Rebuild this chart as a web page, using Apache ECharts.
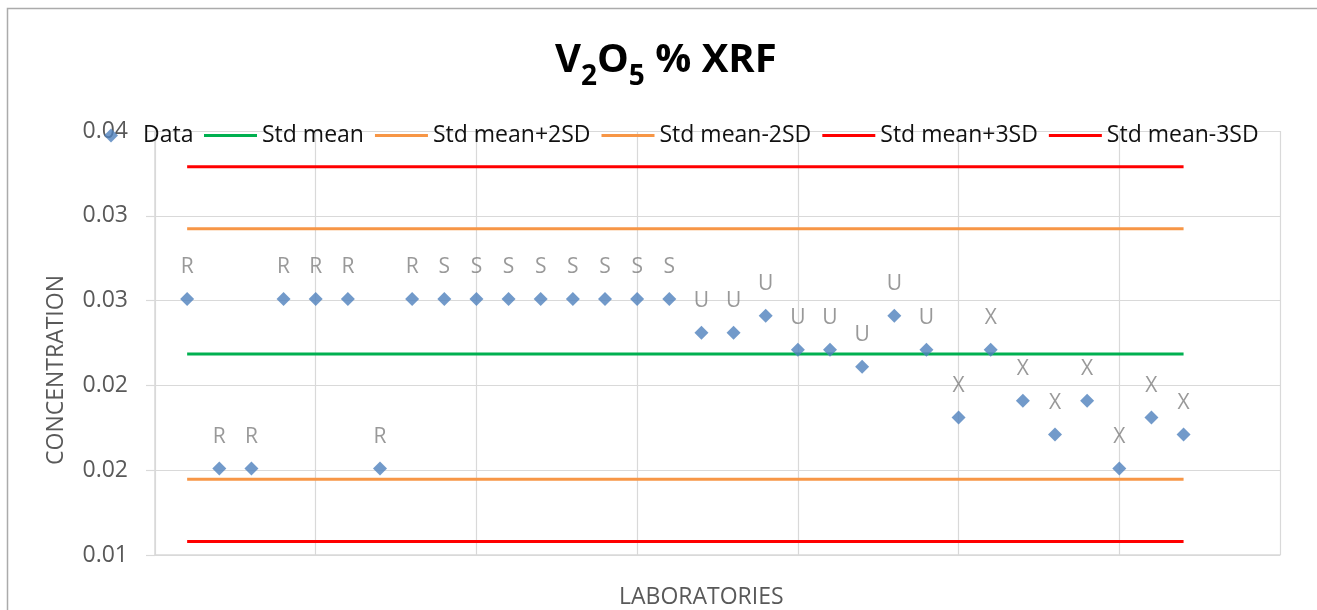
<!DOCTYPE html>
<html>
<head>
<meta charset="utf-8">
<script src="https://cdn.jsdelivr.net/npm/echarts@6/dist/echarts.min.js"></script>
<style>
html,body{margin:0;padding:0;background:#fff;}
#chart{width:1317px;height:610px;}
</style>
</head>
<body>
<div id="chart"></div>
<script>
// ---- data ----
const labIndex = [1,2,3,4,5,6,7,8,9,10,11,12,13,14,15,16,17,18,19,20,21,22,23,24,25,26,27,28,29,30,31,32];
const labGroups = ['R','R','R','R','R','R','R','R','S','S','S','S','S','S','S','S','U','U','U','U','U','U','U','U','X','X','X','X','X','X','X','X'];
const concentrations = [0.0251,0.0151,0.0151,0.0251,0.0251,0.0251,0.0151,0.0251,
                        0.0251,0.0251,0.0251,0.0251,0.0251,0.0251,0.0251,0.0251,
                        0.0231,0.0231,0.0241,0.0221,0.0221,0.0211,0.0241,0.0221,
                        0.0181,0.0221,0.0191,0.0171,0.0191,0.0151,0.0181,0.0171];
const refNames = ['Std mean','Std mean+2SD','Std mean-2SD','Std mean+3SD','Std mean-3SD'];
const refValues = [0.02185,0.02923,0.01447,0.03289,0.01079];
const refColors = ['#00B050','#F79646','#F79646','#FF0000','#FF0000'];
const yTickLabels = ['0.01','0.02','0.02','0.03','0.03','0.04'];

const FONT = 'Open Sans';
const chart = echarts.init(document.getElementById('chart'));

const firstLab = labIndex[0], lastLab = labIndex[labIndex.length - 1];
const refSeries = refNames.map((n, i) => ({
  name: n, type: 'line', symbol: 'none', silent: true, z: 2,
  lineStyle: { color: refColors[i], width: 3 },
  itemStyle: { color: refColors[i] },
  data: [[firstLab, refValues[i]], [lastLab, refValues[i]]]
}));

const LINE_ICON = 'path://M0,0 L53,0 L53,3 L0,3 Z';
const legendText = { fontFamily: FONT, fontSize: 23, color: '#111' };

const option = {
  animation: false,
  textStyle: { fontFamily: FONT },
  title: {
    text: '{a|V}{s|2}{a|O}{s|5}{a| % XRF}',
    left: 555, top: 41, padding: 0,
    textStyle: {
      rich: {
        a: { fontFamily: FONT, fontSize: 40, fontWeight: 'bold', color: '#000', lineHeight: 50, verticalAlign: 'top' },
        s: { fontFamily: FONT, fontSize: 28, fontWeight: 'bold', color: '#000', lineHeight: 24, verticalAlign: 'bottom' }
      }
    }
  },
  legend: [{
    left: 104, top: 124, padding: 0,
    itemWidth: 14, itemHeight: 14,
    itemStyle: { borderWidth: 0, borderColor: 'transparent', color: '#4F81BD' },
    textStyle: Object.assign({ padding: [0, 0, 0, 20] }, legendText),
    data: [{ name: 'Data', icon: 'diamond' }]
  }, {
    left: 204, top: 124, padding: 0,
    itemWidth: 53, itemHeight: 14, itemGap: 11,
    symbolKeepAspect: true,
    textStyle: legendText,
    data: refNames.map(n => ({ name: n, icon: LINE_ICON }))
  }],
  grid: { left: 155, right: 37, top: 131, bottom: 55, containLabel: false },
  xAxis: {
    type: 'value', min: 0, max: 35, interval: 5,
    axisLine: { show: true, lineStyle: { color: '#D9D9D9', width: 1.5 } },
    axisTick: { show: false },
    axisLabel: { show: false },
    splitLine: { show: true, lineStyle: { color: '#D9D9D9', width: 1.2 } }
  },
  yAxis: {
    type: 'value', min: 0.01, max: 0.035, interval: 0.005,
    axisLine: { show: true, lineStyle: { color: '#D9D9D9', width: 1.5 } },
    axisTick: { show: true, length: 9, lineStyle: { color: '#D9D9D9', width: 1.2 } },
    axisLabel: {
      margin: 27, fontFamily: FONT, fontSize: 23, color: '#595959',
      formatter: v => yTickLabels[Math.round((v - 0.01) / 0.005)] || ''
    },
    splitLine: { show: true, lineStyle: { color: '#D9D9D9', width: 1.2 } }
  },
  graphic: [
    { type: 'rect', silent: true, z: 100,
      shape: { x: 7.5, y: 8.5, width: 1400, height: 700 },
      style: { fill: 'none', stroke: '#ABABAB', lineWidth: 1.5 } },
    { type: 'text', silent: true, left: 45, top: 275, rotation: Math.PI / 2,
      style: { text: 'CONCENTRATION', fontFamily: FONT, fontSize: 23, fill: '#595959' } },
    { type: 'text', silent: true, left: 619, top: 586,
      style: { text: 'LABORATORIES', fontFamily: FONT, fontSize: 23, fill: '#595959' } }
  ],
  series: refSeries.concat([{
    name: 'Data', type: 'scatter', z: 5,
    symbol: 'diamond', symbolSize: 14,
    itemStyle: { color: '#4F81BD' },
    label: {
      show: true, position: 'top', distance: 14,
      fontFamily: FONT, fontSize: 21, color: '#7F7F7F',
      formatter: p => labGroups[p.dataIndex]
    },
    data: labIndex.map((x, i) => [x, concentrations[i]])
  }])
};
chart.setOption(option);
</script>
</body>
</html>
